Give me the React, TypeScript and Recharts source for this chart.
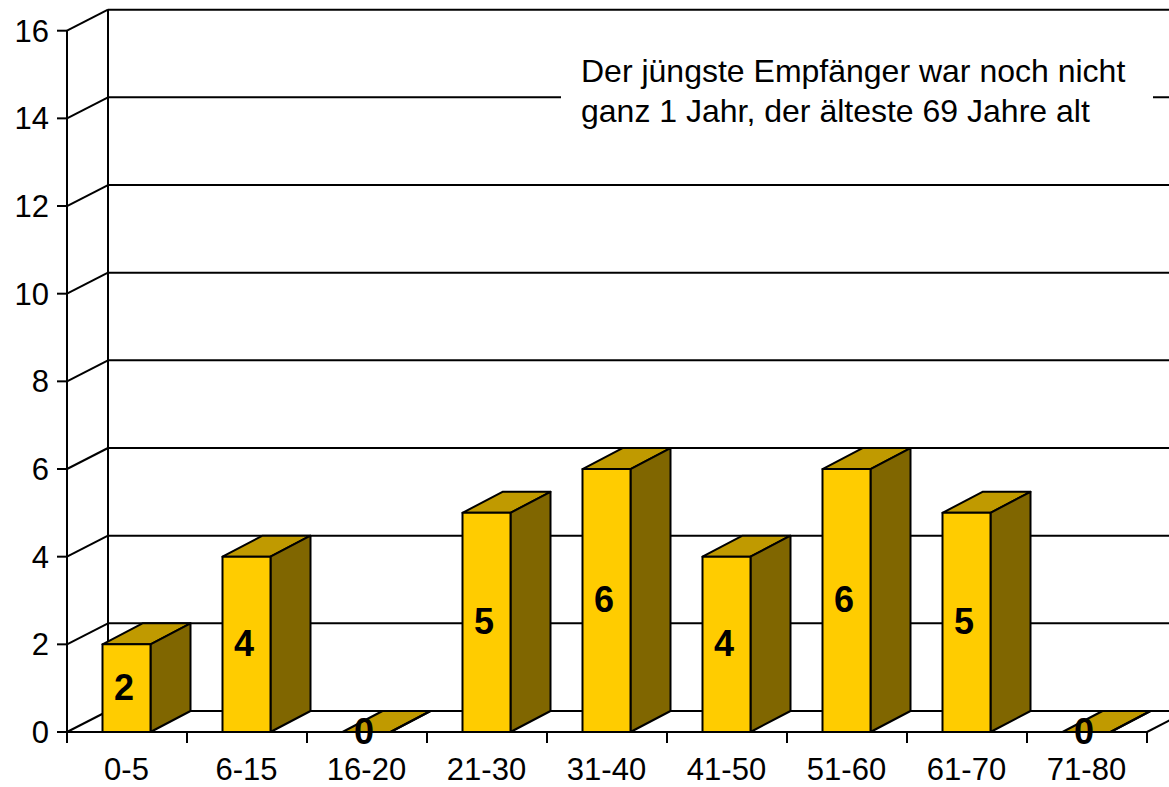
import React from 'react';
import { BarChart, Bar, XAxis, YAxis, CartesianGrid, LabelList } from 'recharts';

const ageGroups = ['0-5', '6-15', '16-20', '21-30', '31-40', '41-50', '51-60', '61-70', '71-80'];
const recipients = [2, 4, 0, 5, 6, 4, 6, 5, 0];
const yTicks = [0, 2, 4, 6, 8, 10, 12, 14, 16];
const noteLines = ['Der jüngste Empfänger war noch nicht', 'ganz 1 Jahr, der älteste 69 Jahre alt'];

const data = ageGroups.map((group, i) => ({ group, count: recipients[i] }));

const FONT = '"Liberation Sans", Arial, sans-serif';
const DEPTH_X = 41;
const DEPTH_Y = 21;
const BAR_DEPTH_X = 40;
const LINE = { stroke: '#000', strokeWidth: 2 };

// back wall line plus the diagonal running to the axis
const HorizontalGridLine = (props: any) => {
  const { x1, x2, y1 } = props;
  return (
    <g>
      <line x1={x1} y1={y1} x2={x1 + DEPTH_X} y2={y1 - DEPTH_Y} {...LINE} />
      <line x1={x1 + DEPTH_X} y1={y1 - DEPTH_Y} x2={x2 + DEPTH_X} y2={y1 - DEPTH_Y} {...LINE} />
    </g>
  );
};

// category ticks sit on the band edges, the first and last edge also start the walls
const VerticalGridLine = (props: any) => {
  const { x1, y1, y2, offset } = props;
  const isFirst = Math.abs(x1 - offset.left) < 1;
  const isLast = Math.abs(x1 - (offset.left + offset.width)) < 1;
  return (
    <g>
      <line x1={x1} y1={y2} x2={x1} y2={y2 + 11} {...LINE} />
      {isFirst && <line x1={x1 + DEPTH_X} y1={y1 - DEPTH_Y} x2={x1 + DEPTH_X} y2={y2 - DEPTH_Y} {...LINE} />}
      {isLast && <line x1={x1} y1={y2} x2={x1 + DEPTH_X} y2={y2 - DEPTH_Y} {...LINE} />}
    </g>
  );
};

const Bar3D = (props: any) => {
  const { y, width, height } = props;
  const x = props.x - 0.5;
  const right = x + width;
  const bottom = y + height;
  return (
    <g stroke="#000" strokeWidth={2} strokeLinejoin="round">
      <polygon
        points={`${x},${y} ${x + BAR_DEPTH_X},${y - DEPTH_Y} ${right + BAR_DEPTH_X},${y - DEPTH_Y} ${right},${y}`}
        fill="#c09a00"
      />
      <polygon
        points={`${right},${y} ${right + BAR_DEPTH_X},${y - DEPTH_Y} ${right + BAR_DEPTH_X},${bottom - DEPTH_Y} ${right},${bottom}`}
        fill="#806600"
      />
      <rect x={x} y={y} width={width} height={height} fill="#ffcc00" />
    </g>
  );
};

const BarValue = (props: any) => {
  const { x, y, width, height, value } = props;
  return (
    <text
      x={x + width / 2 - 3}
      y={y + height / 2}
      dy={11.5}
      textAnchor="middle"
      fontFamily={FONT}
      fontWeight="bold"
      fontSize={36}
      fill="#000"
    >
      {value}
    </text>
  );
};

export default function App() {
  return (
    <div style={{ position: 'absolute', left: 0, top: 0, width: 1169, height: 787, background: '#fff', overflow: 'hidden' }}>
      <BarChart
        width={1169}
        height={787}
        data={data}
        margin={{ top: 30.7, right: 22, bottom: 0, left: 0 }}
        barCategoryGap={36}
      >
        <CartesianGrid
          horizontal={HorizontalGridLine}
          vertical={VerticalGridLine}
          verticalCoordinatesGenerator={({ offset }: any) =>
            ageGroups.concat('').map((_, i) => offset.left + (i * offset.width) / ageGroups.length)
          }
        />
        <XAxis
          dataKey="group"
          height={55}
          interval={0}
          tickLine={false}
          tickMargin={20}
          axisLine={LINE}
          tick={{ fontFamily: FONT, fontSize: 31, fill: '#000', dx: -0.5 }}
        />
        <YAxis
          width={67}
          domain={[0, 16]}
          ticks={yTicks}
          interval={0}
          tickSize={10}
          tickMargin={8}
          tickLine={LINE}
          axisLine={LINE}
          tick={{ fontFamily: FONT, fontSize: 31, fill: '#000' }}
        />
        <Bar dataKey="count" barSize={48} shape={Bar3D} isAnimationActive={false}>
          <LabelList dataKey="count" content={BarValue} />
        </Bar>
      </BarChart>
      <div
        style={{
          position: 'absolute',
          left: 561,
          top: 50,
          width: 592,
          height: 84,
          background: '#fff',
          fontFamily: FONT,
          fontSize: 32,
          lineHeight: '40px',
          color: '#000',
          paddingLeft: 20,
          paddingTop: 1,
          boxSizing: 'border-box',
          whiteSpace: 'nowrap',
        }}
      >
        {noteLines.map((line) => (
          <div key={line}>{line}</div>
        ))}
      </div>
    </div>
  );
}
